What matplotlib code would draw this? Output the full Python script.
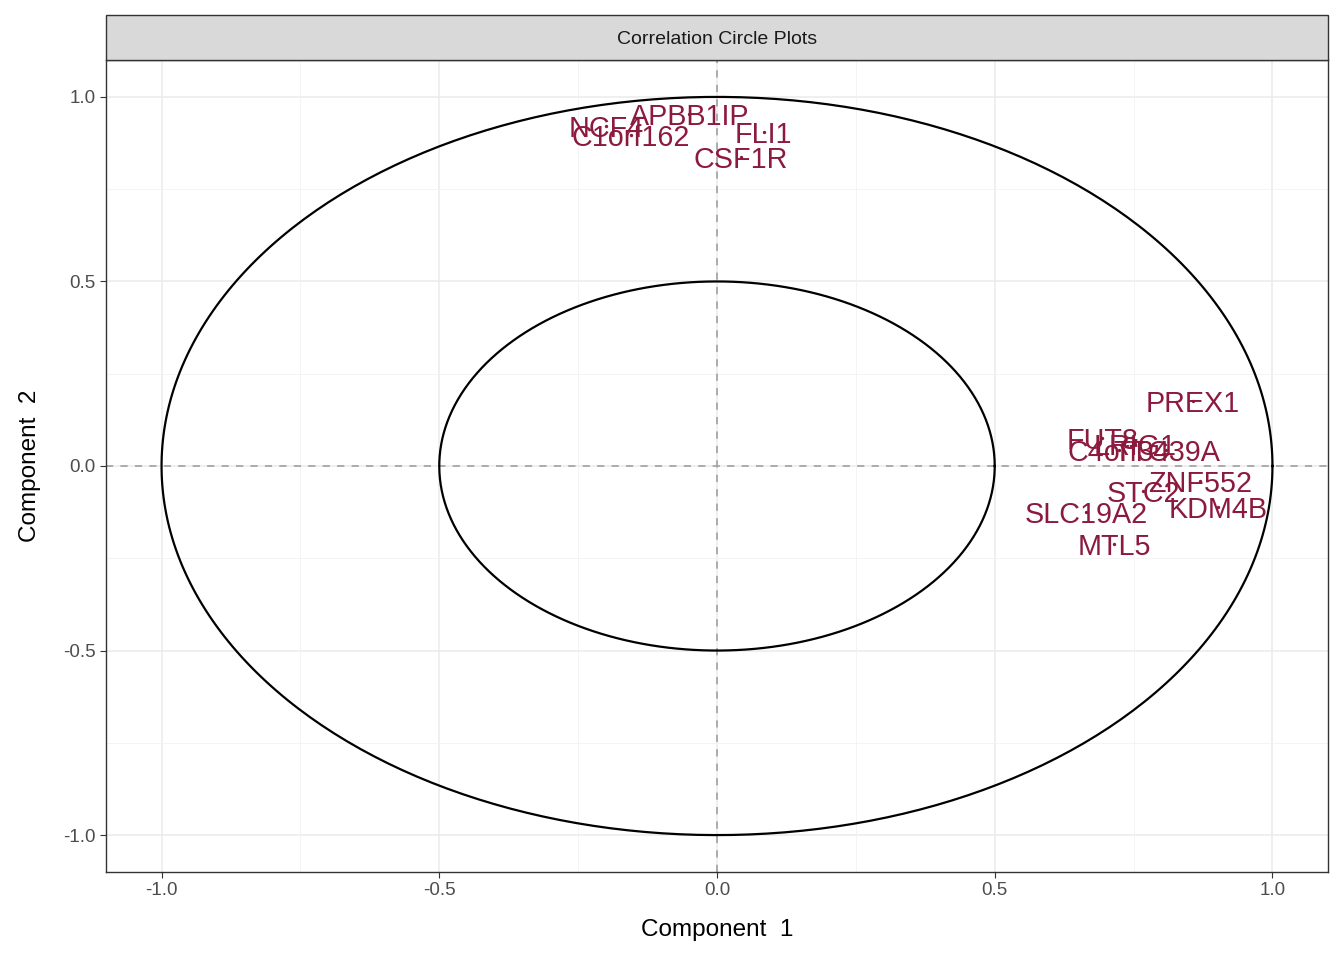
import numpy as np
import matplotlib
matplotlib.use("Agg")
import matplotlib.pyplot as plt
import matplotlib.transforms as mtransforms
from matplotlib.patches import Rectangle

plt.rcParams['font.family'] = ['Liberation Sans', 'DejaVu Sans']

# variable coordinates
genes = ["APBB1IP", "NCF4", "C1orf162", "FLI1", "CSF1R",
         "PREX1", "FUT8", "LRIG1", "C4orf34", "TTC39A",
         "ZNF552", "STC2", "KDM4B", "SLC19A2", "MTL5"]
comp1 = [-0.050, -0.199, -0.155, 0.084, 0.043,
         0.857, 0.694, 0.753, 0.724, 0.809,
         0.870, 0.767, 0.902, 0.665, 0.715]
comp2 = [0.955, 0.920, 0.898, 0.906, 0.836,
         0.176, 0.076, 0.060, 0.043, 0.043,
         -0.040, -0.068, -0.111, -0.125, -0.211]

radii = [1.0, 0.5]
ticks = [-1.0, -0.5, 0.0, 0.5, 1.0]
minor = [-0.75, -0.25, 0.25, 0.75]

LAB_COL = '#8B1A3E'

fig = plt.figure(figsize=(13.44, 9.6), dpi=100)
ax = fig.add_axes([106/1344, 88/960, (1328-106)/1344, (872-60)/960])

ax.set_xlim(-1.1, 1.1)
ax.set_ylim(-1.1, 1.1)

# grid like theme_bw
for v in ticks:
    ax.axvline(v, color='#EBEBEB', lw=1.1, zorder=0)
    ax.axhline(v, color='#EBEBEB', lw=1.1, zorder=0)
for v in minor:
    ax.axvline(v, color='#F2F2F2', lw=0.6, zorder=0)
    ax.axhline(v, color='#F2F2F2', lw=0.6, zorder=0)

ax.axhline(0, color='#A6A6A6', lw=1.3, ls=(0, (4, 4)), zorder=1)
ax.axvline(0, color='#A6A6A6', lw=1.3, ls=(0, (4, 4)), zorder=1)

theta = np.linspace(0, 2*np.pi, 400)
for r in radii:
    ax.plot(r*np.cos(theta), r*np.sin(theta), color='black', lw=1.6, zorder=2)

ax.scatter(comp1, comp2, s=2, color=LAB_COL, zorder=3)
shift = mtransforms.offset_copy(ax.transData, fig=fig, x=0, y=-3, units='dots')
for g, x, y in zip(genes, comp1, comp2):
    ax.text(x, y, g, color=LAB_COL, fontsize=20.7, ha='center', va='center',
            transform=shift, zorder=4)

ax.set_xticks(ticks)
ax.set_yticks(ticks)
ax.set_xticklabels(["-1.0", "-0.5", "0.0", "0.5", "1.0"])
ax.set_yticklabels(["-1.0", "-0.5", "0.0", "0.5", "1.0"])
ax.tick_params(colors='#333333', labelsize=13.5, length=4, width=0.8)
for lab in ax.get_xticklabels() + ax.get_yticklabels():
    lab.set_color('#4D4D4D')
for s in ax.spines.values():
    s.set_color('#333333')
    s.set_linewidth(1.0)

ax.set_xlabel("Component  1", fontsize=17.5, labelpad=14)
ax.set_ylabel("Component  2", fontsize=17.5, labelpad=16)

# facet strip
strip = Rectangle((106/1344, (960-60)/960), (1328-106)/1344, 45/960,
                  transform=fig.transFigure, facecolor='#D9D9D9',
                  edgecolor='#333333', lw=1.0)
fig.patches.append(strip)
fig.text((106+1328)/2/1344, (960-39)/960, "Correlation Circle Plots",
         ha='center', va='center', fontsize=14, color='#1A1A1A')

fig.savefig("out.png", dpi=100)
